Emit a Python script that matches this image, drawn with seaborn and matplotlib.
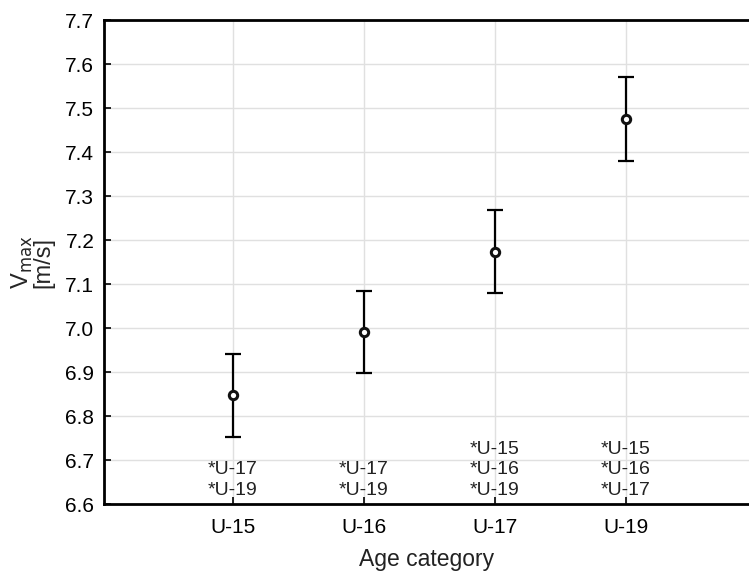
import numpy as np
import pandas as pd
import matplotlib
matplotlib.use("Agg")
import matplotlib.pyplot as plt
import seaborn as sns

categories = ["U-15", "U-16", "U-17", "U-19"]
means = [6.847, 6.990, 7.172, 7.476]
lower = [6.752, 6.897, 7.079, 7.380]
upper = [6.940, 7.085, 7.268, 7.570]
signif = [["*U-17", "*U-19"],
          ["*U-17", "*U-19"],
          ["*U-15", "*U-16", "*U-19"],
          ["*U-15", "*U-16", "*U-17"]]

sns.set_style("ticks")
plt.rcParams["font.family"] = ["Liberation Sans", "DejaVu Sans"]

df = pd.DataFrame({"cat": categories, "mean": means,
                   "lo": lower, "hi": upper})

fig = plt.figure(figsize=(7.49, 5.72), dpi=100)
ax = fig.add_axes([104 / 749, 68 / 572, 1 - 104 / 749, 484 / 572])

yerr = [df["mean"] - df["lo"], df["hi"] - df["mean"]]
ax.errorbar(df["cat"], df["mean"], yerr=yerr, fmt="none", ecolor="black",
            elinewidth=1.6, capsize=6, capthick=1.6, zorder=3)
sns.scatterplot(data=df, x="cat", y="mean", ax=ax, marker="o", s=36,
                facecolor="white", edgecolor="#111111", linewidth=2.2, zorder=4)

# significance notes, stacked upward from the x axis
for i, lines in enumerate(signif):
    ax.text(i, 6.612, "\n".join(lines), ha="center", va="bottom",
            fontsize=14, linespacing=1.25, color="#222222")

ax.set_xlim(-0.985, 3.94)
ax.set_ylim(6.6, 7.7)
ax.set_yticks(np.arange(6.6, 7.71, 0.1))
ax.set_yticklabels([f"{v:.1f}" for v in np.arange(6.6, 7.71, 0.1)])
ax.grid(True, color="#e0e0e0", linewidth=1)
ax.set_axisbelow(True)
ax.tick_params(direction="in", length=5, width=1.2, labelsize=15, pad=7,
               colors="black")
ax.tick_params(axis="x", pad=10)
for s in ["left", "bottom", "top"]:
    ax.spines[s].set_linewidth(2)
    ax.spines[s].set_color("black")
ax.spines["right"].set_visible(False)

ax.set_xlabel("Age category", fontsize=16.5, labelpad=8, color="#222222")
ax.set_ylabel("V$_{\\mathrm{max}}$\n[m/s]", fontsize=17, labelpad=8,
              linespacing=0.8)

fig.savefig("out.png", dpi=100)
